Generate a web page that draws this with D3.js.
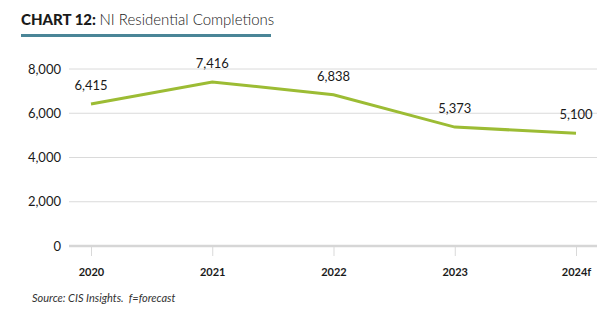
<!DOCTYPE html>
<html>
<head>
<meta charset="utf-8">
<script src="https://cdn.jsdelivr.net/npm/d3@7"></script>
<style>
  body { margin: 0; background: #fff; }
  svg { display: block; font-family: Lato, "Open Sans", sans-serif; }
</style>
</head>
<body>
<div id="chart"></div>
<script>
// Chart data
const YEARS = ["2020", "2021", "2022", "2023", "2024f"];
const COMPLETIONS = [6415, 7416, 6838, 5373, 5100];
const Y_TICKS = [0, 2000, 4000, 6000, 8000];

const FRAME_WIDTH = 616;
const FRAME_HEIGHT = 324;
const PLOT = {left: 69, right: 597, top: 69, bottom: 246};

const FRAME = d3.select("#chart")
                .append("svg")
                  .attr("width", FRAME_WIDTH)
                  .attr("height", FRAME_HEIGHT);

// Title and rule underneath
const title = FRAME.append("text")
  .attr("x", 21)
  .attr("y", 25)
  .attr("font-size", "15px")
  .attr("fill", "#1a1a1a");
title.append("tspan").attr("font-weight", 900).text("CHART 12: ");
title.append("tspan").attr("font-weight", 300).text("NI Residential Completions");

FRAME.append("rect")
  .attr("x", 21)
  .attr("y", 34)
  .attr("width", 250)
  .attr("height", 3)
  .attr("fill", "#4a8597");

// Scales
const X_SCALE = d3.scalePoint()
                  .domain(YEARS)
                  .range([91, 576]);

const Y_SCALE = d3.scaleLinear()
                  .domain([0, 8000])
                  .range([PLOT.bottom, PLOT.top]);

// Gridlines
FRAME.append("g")
  .selectAll("line")
  .data(Y_TICKS.filter((d) => d > 0))
  .enter()
  .append("line")
    .attr("x1", PLOT.left)
    .attr("x2", PLOT.right)
    .attr("y1", (d) => Y_SCALE(d))
    .attr("y2", (d) => Y_SCALE(d))
    .attr("stroke", "#dadada")
    .attr("stroke-width", 1);

// Y axis labels
const yAxis = FRAME.append("g")
  .attr("transform", "translate(61,0)")
  .call(d3.axisLeft(Y_SCALE).tickValues(Y_TICKS).tickSize(0).tickPadding(0)
        .tickFormat(d3.format(",")));
yAxis.select(".domain").remove();
yAxis.selectAll("text")
  .attr("font-size", "13px")
  .attr("font-family", "Lato, sans-serif")
  .attr("fill", "#1a1a1a");

// X axis with ticks hanging below baseline
const xAxis = FRAME.append("g")
  .attr("transform", "translate(0," + PLOT.bottom + ")")
  .call(d3.axisBottom(X_SCALE).tickSize(10).tickPadding(12));
xAxis.select(".domain").remove();
xAxis.selectAll("line").attr("stroke", "#d9d9d9");
xAxis.selectAll("text")
  .attr("font-size", "11px")
  .attr("font-weight", 700)
  .attr("font-family", "Lato, sans-serif")
  .attr("fill", "#1a1a1a");

// Zero baseline
FRAME.append("line")
  .attr("x1", PLOT.left)
  .attr("x2", PLOT.right)
  .attr("y1", Y_SCALE(0))
  .attr("y2", Y_SCALE(0))
  .attr("stroke", "#d6d6d6")
  .attr("stroke-width", 2.5);

// Line
const line = d3.line()
  .x((d, i) => X_SCALE(YEARS[i]))
  .y((d) => Y_SCALE(d));

FRAME.append("path")
  .datum(COMPLETIONS)
  .attr("d", line)
  .attr("fill", "none")
  .attr("stroke", "#9cbc34")
  .attr("stroke-width", 3);

// Data labels
FRAME.append("g")
  .selectAll("text")
  .data(COMPLETIONS)
  .enter()
  .append("text")
    .attr("x", (d, i) => X_SCALE(YEARS[i]))
    .attr("y", (d) => Y_SCALE(d) - 14)
    .attr("text-anchor", "middle")
    .attr("font-size", "13px")
    .attr("fill", "#1a1a1a")
    .text((d) => d3.format(",")(d));

// Source note
FRAME.append("text")
  .attr("x", 32)
  .attr("y", 302)
  .attr("font-size", "11px")
  .attr("font-style", "italic")
  .attr("fill", "#333")
  .text("Source: CIS Insights.  f=forecast")
  .attr("xml:space", "preserve");
</script>
</body>
</html>
